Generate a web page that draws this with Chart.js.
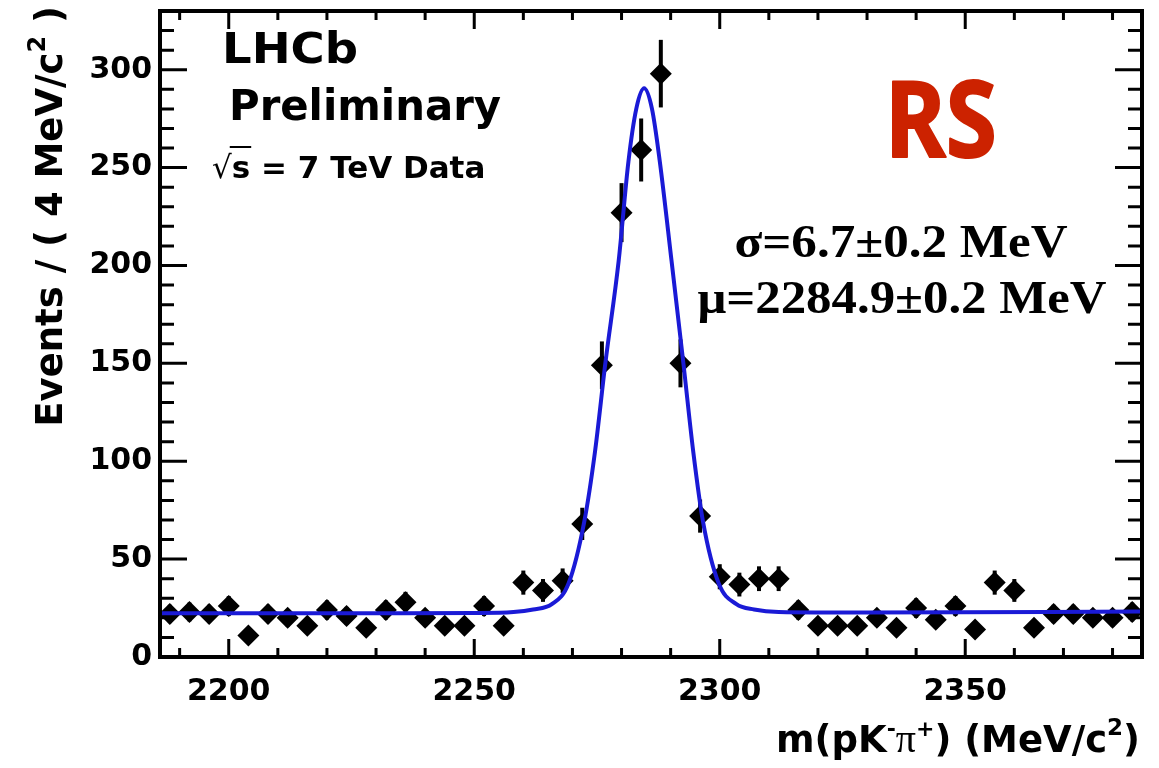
<!DOCTYPE html>
<html>
<head>
<meta charset="utf-8">
<title>m(pK-pi+) mass spectrum</title>
<style>
  html, body { margin: 0; padding: 0; background: #fff; }
  #plot { display: block; }
</style>
</head>
<body>
<canvas id="plot" width="1159" height="768"></canvas>
<script src="https://cdn.jsdelivr.net/npm/chart.js@4.4.1/dist/chart.umd.min.js"></script>
<script>
// ===== HISTOGRAM: events per 4 MeV bin =====
const MASS_MIN = 2186;
const MASS_MAX = 2386;
const BIN_WIDTH = 4;
const COUNTS = [
  22, 23, 22, 26, 11, 22, 20, 16, 24, 21,
  15, 24, 28, 20, 16, 16, 26, 16, 38, 34,
  39, 68, 149, 227, 259, 298, 150, 72, 41, 37,
  40, 40, 24, 16, 16, 16, 20, 15, 25, 19,
  26, 14, 38, 34, 15, 22, 22, 20, 20, 23,
];

// ===== FIT CURVE (signal + flat background) =====
const FIT_MASS = [
  2186, 2230, 2250, 2258, 2262, 2265.8, 2269.2, 2272.4, 2274.6, 2276.7,
  2279.4, 2281.4, 2283, 2284.6, 2286.2, 2287.8, 2290.2, 2292.6, 2294.6, 2296.6,
  2299.8, 2303.4, 2307, 2312, 2330, 2386,
];
const FIT_EVENTS = [
  22.3, 22.4, 22.5, 23, 24.3, 27, 37.5, 69, 105, 150,
  202, 253, 280, 290.5, 280, 253, 202, 150, 105, 69,
  37.5, 27, 24.3, 23, 22.7, 23.2,
];

// ===== AXES =====
const Y_MAX = 330;
const X_MAJOR = [2200, 2250, 2300, 2350];
const Y_MAJOR = [0, 50, 100, 150, 200, 250, 300];
const MINOR_STEP = 10;

const FIT_BLUE = '#1a1ad6';
const RS_RED = '#cc2200';
const ROOT_FONT = '"DejaVu Sans", sans-serif';

const binCenters = COUNTS.map((_, i) => MASS_MIN + BIN_WIDTH * (i + 0.5));

function drawParts(ctx, parts, x, y, align) {
  let total = 0;
  parts.forEach((p) => { ctx.font = p.font; total += ctx.measureText(p.text).width; });
  let cx = align === 'right' ? x - total : x;
  ctx.textAlign = 'left';
  parts.forEach((p) => {
    ctx.font = p.font;
    ctx.fillText(p.text, cx, y + (p.dy || 0));
    cx += ctx.measureText(p.text).width;
  });
}

function drawFitted(ctx, text, x, baseline, width, font, align = 'center', stroke = 0) {
  ctx.font = font;
  const w = ctx.measureText(text).width;
  ctx.save();
  ctx.translate(x, baseline);
  ctx.scale(width / w, 1);
  ctx.textAlign = align;
  ctx.fillText(text, 0, 0);
  if (stroke) {
    ctx.lineWidth = stroke;
    ctx.lineJoin = 'round';
    ctx.strokeStyle = ctx.fillStyle;
    ctx.strokeText(text, 0, 0);
  }
  ctx.restore();
}

// error bars go under the markers and the fit line
const errorBars = {
  id: 'errorBars',
  beforeDatasetsDraw(chart) {
    const { ctx, chartArea, scales: { x, y } } = chart;
    ctx.save();
    ctx.beginPath();
    ctx.rect(chartArea.left, chartArea.top, chartArea.right - chartArea.left, chartArea.bottom - chartArea.top);
    ctx.clip();
    ctx.strokeStyle = '#000';
    ctx.lineWidth = 4;
    COUNTS.forEach((n, i) => {
      const err = Math.sqrt(n);
      const px = x.getPixelForValue(binCenters[i]);
      ctx.beginPath();
      ctx.moveTo(px, y.getPixelForValue(n + err));
      ctx.lineTo(px, y.getPixelForValue(n - err));
      ctx.stroke();
    });
    ctx.restore();
  },
};

// ROOT-style frame with inward ticks, plus the plot annotations
const rootFrame = {
  id: 'rootFrame',
  afterDraw(chart) {
    const { ctx, chartArea: a, scales: { x, y } } = chart;
    ctx.save();
    ctx.strokeStyle = '#000';
    ctx.lineCap = 'butt';

    ctx.lineWidth = 3;
    ctx.beginPath();
    for (let v = Math.ceil(MASS_MIN / MINOR_STEP) * MINOR_STEP; v <= MASS_MAX; v += MINOR_STEP) {
      const px = x.getPixelForValue(v);
      const len = X_MAJOR.includes(v) ? 18 : 9;
      ctx.moveTo(px, a.bottom); ctx.lineTo(px, a.bottom - len);
      ctx.moveTo(px, a.top); ctx.lineTo(px, a.top + len);
    }
    for (let v = 0; v <= Y_MAX; v += MINOR_STEP) {
      const py = y.getPixelForValue(v);
      const len = Y_MAJOR.includes(v) ? 27 : 14;
      ctx.moveTo(a.left, py); ctx.lineTo(a.left + len, py);
      ctx.moveTo(a.right, py); ctx.lineTo(a.right - len, py);
    }
    ctx.stroke();

    ctx.lineWidth = 4;
    ctx.strokeRect(a.left, a.top, a.right - a.left, a.bottom - a.top);

    ctx.fillStyle = '#000';
    ctx.textBaseline = 'alphabetic';

    // axis titles
    drawParts(ctx, [
      { text: 'm(pK', font: `bold 37px ${ROOT_FONT}` },
      { text: '-', font: `bold 22px ${ROOT_FONT}`, dy: -16 },
      { text: 'π', font: '40px "Liberation Serif", serif' },
      { text: '+', font: `bold 22px ${ROOT_FONT}`, dy: -16 },
      { text: ') (MeV/c', font: `bold 37px ${ROOT_FONT}` },
      { text: '2', font: `bold 23px ${ROOT_FONT}`, dy: -17 },
      { text: ')', font: `bold 37px ${ROOT_FONT}` },
    ], 1140, 752, 'right');

    ctx.save();
    ctx.translate(62, 0);
    ctx.rotate(-Math.PI / 2);
    drawParts(ctx, [
      { text: 'Events / ( 4 MeV/c', font: `bold 37px ${ROOT_FONT}` },
      { text: '2', font: `bold 24px ${ROOT_FONT}`, dy: -17 },
      { text: ' )', font: `bold 37px ${ROOT_FONT}` },
    ], -6, 0, 'right');
    ctx.restore();

    // experiment label
    drawFitted(ctx, 'LHCb', 222, 63, 136, `bold 43px ${ROOT_FONT}`, 'left');
    drawFitted(ctx, 'Preliminary', 229, 120, 272, `bold 43px ${ROOT_FONT}`, 'left');

    ctx.textAlign = 'left';
    ctx.font = `31px ${ROOT_FONT}`;
    ctx.fillText('√', 212, 178);
    const rootW = ctx.measureText('√').width;
    ctx.font = `bold 31px ${ROOT_FONT}`;
    const sW = ctx.measureText('s').width;
    ctx.fillText('s = 7 TeV Data', 212 + rootW, 178);
    ctx.lineWidth = 2;
    ctx.beginPath();
    ctx.moveTo(212 + rootW - 2, 147);
    ctx.lineTo(212 + rootW + sW + 1, 147);
    ctx.stroke();

    // channel tag and fit results
    ctx.fillStyle = RS_RED;
    drawFitted(ctx, 'RS', 941, 157, 112, 'bold 106px "Noto Sans", sans-serif', 'center', 2);
    ctx.fillStyle = '#000';
    drawFitted(ctx, 'σ=6.7±0.2 MeV', 901, 257, 333, 'bold 46px "Liberation Serif", serif');
    drawFitted(ctx, 'μ=2284.9±0.2 MeV', 902, 313, 409, 'bold 46px "Liberation Serif", serif');

    ctx.restore();
  },
};

const tickFont = { family: ROOT_FONT, size: 30, weight: 'bold' };

new Chart(document.getElementById('plot'), {
  type: 'scatter',
  data: {
    datasets: [
      {
        label: 'Fit',
        data: FIT_MASS.map((m, i) => ({ x: m, y: FIT_EVENTS[i] })),
        showLine: true,
        borderColor: FIT_BLUE,
        borderWidth: 4,
        pointRadius: 0,
        cubicInterpolationMode: 'monotone',
        order: 0,
      },
      {
        label: 'Data',
        data: COUNTS.map((n, i) => ({ x: binCenters[i], y: n })),
        pointStyle: 'rectRot',
        pointRadius: 11,
        backgroundColor: '#000',
        borderColor: '#000',
        borderWidth: 0,
        order: 1,
      },
    ],
  },
  options: {
    responsive: false,
    animation: false,
    events: [],
    layout: { padding: { top: 10, right: 17, left: 0, bottom: 0 } },
    plugins: { legend: { display: false }, tooltip: { enabled: false } },
    scales: {
      x: {
        type: 'linear',
        min: MASS_MIN,
        max: MASS_MAX,
        afterBuildTicks: (s) => { s.ticks = X_MAJOR.map((v) => ({ value: v })); },
        afterFit: (s) => { s.height = 111; s.paddingLeft = 0; s.paddingRight = 0; },
        grid: { display: false, drawTicks: false },
        border: { display: false },
        ticks: { font: tickFont, color: '#000', padding: 17, autoSkip: false, maxRotation: 0, callback: (v) => String(v) },
      },
      y: {
        type: 'linear',
        min: 0,
        max: Y_MAX,
        afterBuildTicks: (s) => { s.ticks = Y_MAJOR.map((v) => ({ value: v })); },
        afterFit: (s) => { s.width = 160; s.paddingTop = 0; s.paddingBottom = 0; },
        grid: { display: false, drawTicks: false },
        border: { display: false },
        ticks: { font: tickFont, color: '#000', padding: 8, autoSkip: false, callback: (v) => String(v) },
      },
    },
  },
  plugins: [errorBars, rootFrame],
});
</script>
</body>
</html>
